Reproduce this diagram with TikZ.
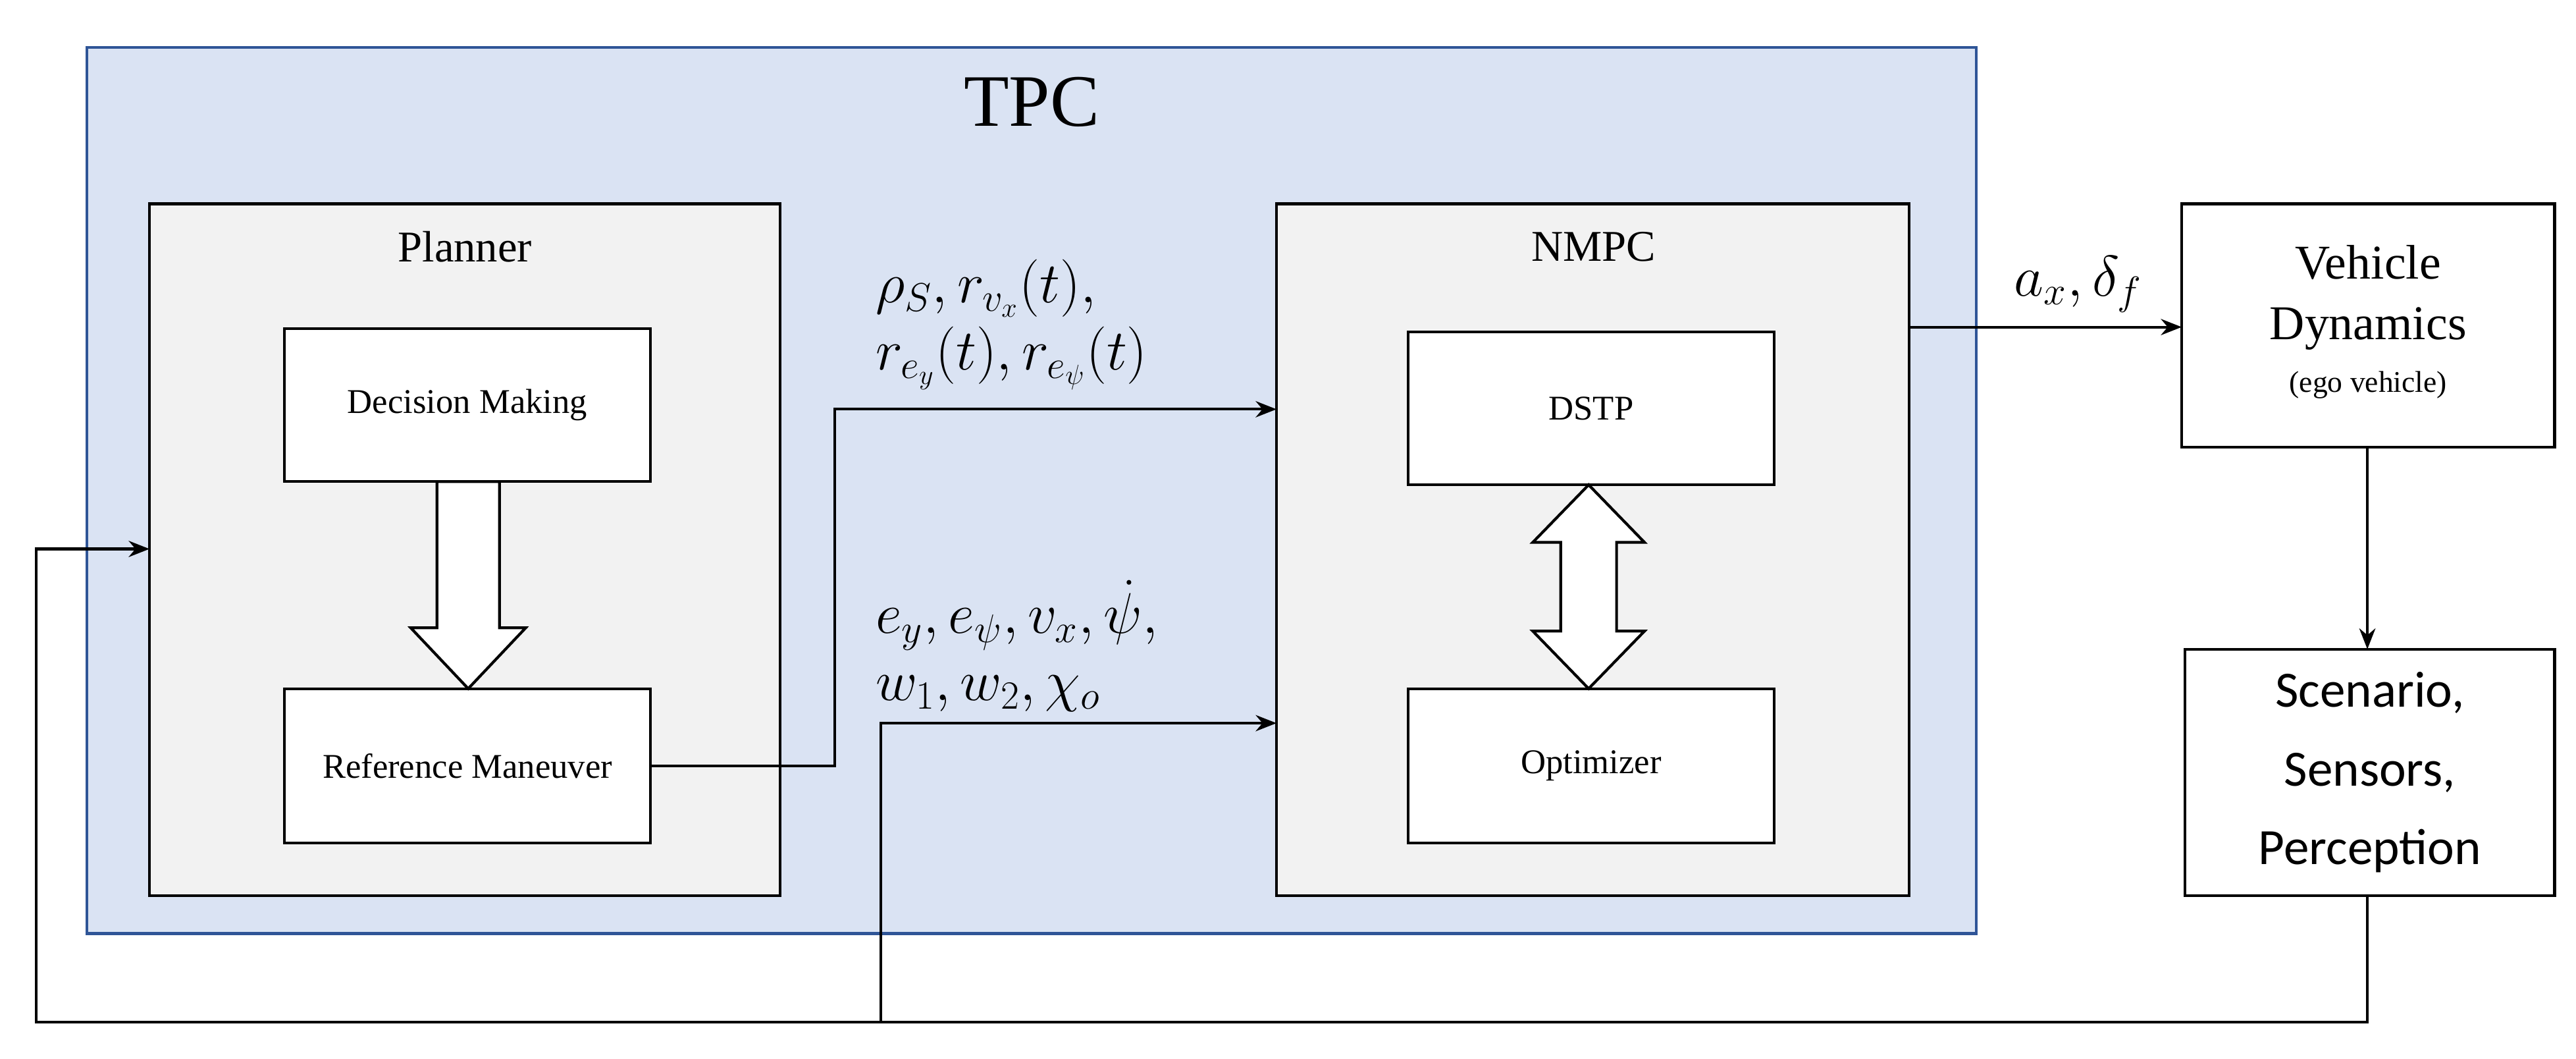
\documentclass[tikz,border=0pt]{standalone}
\usepackage{fontspec}
\setmainfont{Liberation Serif}
\newfontfamily\carl{Carlito}
\usetikzlibrary{arrows.meta}
\definecolor{tpcfill}{HTML}{DAE3F3}
\definecolor{tpcline}{HTML}{2F5597}
\begin{document}
\begin{tikzpicture}[x=0.025cm,y=-0.025cm,
  box/.style={draw,line width=1.2pt,fill=white},
  gbox/.style={draw,line width=1.2pt,fill=black!5},
  conn/.style={line width=1.2pt,-{Stealth[length=9pt,width=7pt]}},
  lbl/.style={font=\fontsize{24}{29}\selectfont,align=left}]
\useasboundingbox (0,0) rectangle (1568,644);
\draw[tpcline,fill=tpcfill,line width=1.2pt] (53,29) rectangle (1203,568);
\node[font=\fontsize{32}{36}\selectfont] (tpc) at (628,62) {TPC};
\draw[gbox] (91,124) rectangle (475,545);
\node[font=\fontsize{19}{22}\selectfont] (pl) at (283,150) {Planner};
\draw[box] (173,200) rectangle (396,293);
\node[font=\fontsize{15}{18}\selectfont] (dmt) at (284.5,246.5) {Decision Making};
\draw[box] (173,419) rectangle (396,513);
\node[font=\fontsize{15}{18}\selectfont] (rm) at (284.5,466) {Reference Maneuver};
\coordinate (rmr) at (396,466);
\draw[line width=1.2pt,fill=white] (266,293)--(304,293)--(304,382)--(320,382)--(285,419)--(250,382)--(266,382)--cycle;
\draw[gbox] (777,124) rectangle (1162,545);
\node[font=\fontsize{19}{22}\selectfont] (nm) at (970,150) {NMPC};
\draw[box] (857,202) rectangle (1080,295);
\node[font=\fontsize{15}{18}\selectfont] (ds) at (968.5,248.5) {DSTP};
\draw[box] (857,419) rectangle (1080,513);
\node[font=\fontsize{15}{18}\selectfont] (op) at (968.5,466) {Optimizer};
\draw[line width=1.2pt,fill=white] (967,295)--(1001,330)--(984,330)--(984,384)--(1001,384)--(967,419)--(933,384)--(950,384)--(950,330)--(933,330)--cycle;
\draw[box] (1328,124) rectangle (1555,272);
\node[align=center,font=\fontsize{21}{26}\selectfont] (vd) at (1441.5,196) {Vehicle\\Dynamics\\[-3pt]{\fontsize{13}{15}\selectfont (ego vehicle)}};
\draw[box] (1330,395) rectangle (1555,545);
\node[align=center,font=\carl\fontsize{22}{34}\selectfont] (sc) at (1442.5,470) {Scenario,\\Sensors,\\Perception};
\coordinate (nin1) at (777,249);
\coordinate (nin2) at (777,440);
\coordinate (nout) at (1162,199);
\coordinate (vdin) at (1328,199);
\coordinate (vdb) at (1441,272);
\coordinate (sct) at (1441,395);
\coordinate (scb) at (1441,545);
\coordinate (plin) at (91,334);
\draw[conn] (rmr) -- (508,466) -- (508,249) -- (nin1);
\draw[conn] (nout) -- (vdin);
\draw[conn] (vdb) -- (sct);
\draw[conn] (scb) -- (1441,622) -- (22,622) -- (22,334) -- (plin);
\draw[conn] (536,622) -- (536,440) -- (nin2);
\node[lbl,anchor=south west] (l1) at (528,242) {$\rho_S, r_{v_x}(t),$\\$r_{e_y}(t), r_{e_\psi}(t)$};
\node[lbl,anchor=south west] (l2) at (528,438) {$e_y, e_\psi, v_x, \dot\psi,$\\$w_1, w_2, \chi_o$};
\node[lbl,anchor=south] (l3) at (1265,195) {$a_x, \delta_f$};
\end{tikzpicture}
\end{document}
